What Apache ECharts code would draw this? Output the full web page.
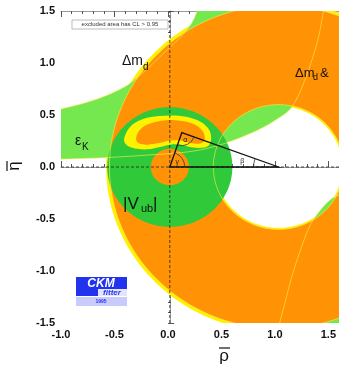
<!DOCTYPE html>
<html>
<head>
<meta charset="utf-8">
<script src="https://cdn.jsdelivr.net/npm/echarts@6/dist/echarts.min.js"></script>
<style>
html, body { margin: 0; padding: 0; background: #fff; }
#c { width: 339px; height: 372px; }
</style>
</head>
<body>
<div id="c"></div>
<script>
// Tick labels of the two axes
const rhoTicks = [-1.0, -0.5, 0.0, 0.5, 1.0, 1.5];
const rhoTickLabels = ['-1.0', '-0.5', '0.0', '0.5', '1.0', '1.5'];
const etaTicks = [-1.5, -1.0, -0.5, 0.0, 0.5, 1.0, 1.5];
const etaTickLabels = ['-1.5', '-1.0', '-0.5', '0.0', '0.5', '1.0', '1.5'];

// Δm_d constraint: annulus around (1, 0) -> [rho, eta, inner radius, outer radius]
const dmdRing = [1.0, 0.0, 0.6, 1.555];
const dmdRim = [1.0, 0.0, 0.585, 1.585];
// |Vub| constraint: annulus around the origin
const vubRing = [0.0, 0.0, 0.175, 0.575];

// ε_K band edges, [rho, eta]
const epsLower = [[-1.05, 0.075], [-0.6, 0.09], [-0.2, 0.115], [0.2, 0.15], [0.5, 0.225], [0.8, 0.35], [1.0, 0.47], [1.13, 0.59], [1.25, 0.86], [1.36, 1.22], [1.42, 1.55]];
const epsUpper = [[0.27, 1.6], [0.25, 1.5], [0.22, 1.42], [0.18, 1.35], [0.1, 1.25], [0.0, 1.15], [-0.1, 1.05], [-0.2, 0.95], [-0.3, 0.86], [-0.4, 0.78], [-0.6, 0.68], [-0.8, 0.61], [-1.05, 0.545]];
const epsLowerRight = [[0.98, -1.65], [1.01, -1.5], [1.06, -1.3], [1.12, -1.06], [1.2, -0.8], [1.29, -0.56], [1.38, -0.42], [1.48, -0.31], [1.6, -0.25]];

// Global fit contours
const fitOuter = [[-0.42, 0.25], [-0.40, 0.33], [-0.34, 0.41], [-0.24, 0.465], [-0.10, 0.49], [0.05, 0.495], [0.18, 0.475], [0.29, 0.43], [0.36, 0.36], [0.38, 0.28], [0.36, 0.21], [0.30, 0.185], [0.20, 0.19], [0.10, 0.215], [0.0, 0.215], [-0.10, 0.19], [-0.20, 0.17], [-0.30, 0.175], [-0.38, 0.20]];
const fitInner = [[-0.31, 0.27], [-0.28, 0.35], [-0.20, 0.41], [-0.08, 0.445], [0.05, 0.45], [0.17, 0.43], [0.26, 0.39], [0.31, 0.33], [0.32, 0.26], [0.28, 0.225], [0.19, 0.23], [0.10, 0.255], [0.0, 0.255], [-0.10, 0.23], [-0.20, 0.215], [-0.28, 0.225]];

// Unitarity triangle vertices: gamma at origin, beta at (1,0), alpha at apex
const triVertices = [[0.0, 0.0], [1.0, 0.0], [0.11, 0.33]];
const angleNames = ['γ', 'β', 'α'];

const ORANGE = '#ff9305';
const YELLOW = '#fff200';
const LIGHT_GREEN = '#74e84e';
const DARK_GREEN = '#30c93a';
const FAINT = 'rgba(255,236,80,0.6)';
const FONT = '"Liberation Sans", Arial, sans-serif';

function fmt(p) { return p[0].toFixed(2) + ' ' + p[1].toFixed(2); }

function circlePath(api, c, r, ccw) {
  const pts = [];
  for (let i = 0; i < 180; i++) {
    const t = (ccw ? -i : i) * 2 * Math.PI / 180;
    pts.push(api.coord([c[0] + r * Math.cos(t), c[1] + r * Math.sin(t)]));
  }
  return 'M' + pts.map(fmt).join('L') + 'Z';
}

function ringPath(api, ring) {
  const c = [ring[0], ring[1]];
  return circlePath(api, c, ring[3], true) + circlePath(api, c, ring[2], false);
}

// Catmull-Rom curve through pixel points, as cubic bezier path
function curvePath(pts, closed, lead) {
  const n = pts.length;
  let d = (lead || 'M') + fmt(pts[0]);
  const segs = closed ? n : n - 1;
  for (let i = 0; i < segs; i++) {
    const p0 = pts[closed ? (i - 1 + n) % n : Math.max(i - 1, 0)];
    const p1 = pts[i];
    const p2 = pts[(i + 1) % n];
    const p3 = pts[closed ? (i + 2) % n : Math.min(i + 2, n - 1)];
    const c1 = [p1[0] + (p2[0] - p0[0]) / 6, p1[1] + (p2[1] - p0[1]) / 6];
    const c2 = [p2[0] - (p3[0] - p1[0]) / 6, p2[1] - (p3[1] - p1[1]) / 6];
    d += 'C' + fmt(c1) + ' ' + fmt(c2) + ' ' + fmt(p2);
  }
  return closed ? d + 'Z' : d;
}

function toPx(api, arr) { return arr.map(p => api.coord(p)); }

function pathSeries(z, build, style) {
  return {
    type: 'custom', xAxisIndex: 0, yAxisIndex: 0, clip: true, silent: true, z: z,
    data: [[0, 0]],
    renderItem: (params, api) => ({ type: 'path', shape: { pathData: build(api) }, style: style })
  };
}

const series = [
  // yellow rim of the Δm_d ring
  pathSeries(2, api => ringPath(api, dmdRim), { fill: YELLOW }),
  // ε_K band (upper branch)
  pathSeries(3, api => {
    const corner = [[epsLower[epsLower.length - 1][0], 1.7], [epsUpper[0][0], 1.7]];
    return curvePath(toPx(api, epsLower), false) + 'L' + toPx(api, corner).map(fmt).join('L') +
      curvePath(toPx(api, epsUpper), false, 'L') + 'Z';
  }, { fill: LIGHT_GREEN }),
  // ε_K band (lower branch)
  pathSeries(3, api => {
    const corner = [[1.7, -0.25], [1.7, -1.7], [0.98, -1.7]];
    return curvePath(toPx(api, epsLowerRight), false) + 'L' + toPx(api, corner).map(fmt).join('L') + 'Z';
  }, { fill: LIGHT_GREEN }),
  // Δm_d ring
  pathSeries(4, api => ringPath(api, dmdRing), { fill: ORANGE }),
  // |Vub| ring
  pathSeries(5, api => ringPath(api, vubRing), { fill: DARK_GREEN }),
  // faint contour outlines
  pathSeries(6, api => circlePath(api, [dmdRing[0], dmdRing[1]], dmdRing[2], true) +
      circlePath(api, [dmdRing[0], dmdRing[1]], dmdRing[3], true),
    { fill: 'none', stroke: FAINT, lineWidth: 1 }),
  pathSeries(6, api => curvePath(toPx(api, epsLower), false) + curvePath(toPx(api, epsUpper), false) +
      curvePath(toPx(api, epsLowerRight), false),
    { fill: 'none', stroke: FAINT, lineWidth: 1 }),
  // global fit contours
  pathSeries(7, api => curvePath(toPx(api, fitOuter), true), { fill: YELLOW }),
  pathSeries(8, api => curvePath(toPx(api, fitInner), true), { fill: ORANGE }),
  // dashed axes through the origin
  {
    type: 'line', xAxisIndex: 0, yAxisIndex: 0, silent: true, z: 9, symbol: 'none',
    data: [[0, -1.5], [0, 1.5]], lineStyle: { color: '#222', width: 0.8, type: [3, 2] }
  },
  {
    type: 'line', xAxisIndex: 0, yAxisIndex: 0, silent: true, z: 9, symbol: 'none',
    data: [[-1, 0], [1.6, 0]], lineStyle: { color: '#222', width: 0.8, type: [3, 2] }
  },
  // unitarity triangle with its angles
  {
    type: 'custom', xAxisIndex: 0, yAxisIndex: 0, clip: true, silent: true, z: 10,
    data: [[0, 0]],
    renderItem: (params, api) => {
      const P = toPx(api, triVertices);
      const arcR = [15, 25, 13];
      const labR = [9, 37, 8];
      const children = [{
        type: 'polygon', shape: { points: P },
        style: { fill: 'none', stroke: '#111', lineWidth: 1.3 }
      }];
      for (let i = 0; i < 3; i++) {
        const A = P[i], B = P[(i + 1) % 3], C = P[(i + 2) % 3];
        const a1 = Math.atan2(B[1] - A[1], B[0] - A[0]);
        const a2 = Math.atan2(C[1] - A[1], C[0] - A[0]);
        let diff = a2 - a1;
        while (diff > Math.PI) diff -= 2 * Math.PI;
        while (diff < -Math.PI) diff += 2 * Math.PI;
        const s = diff > 0 ? a1 : a2;
        const span = Math.abs(diff);
        children.push({
          type: 'arc',
          shape: { cx: A[0], cy: A[1], r: arcR[i], startAngle: s, endAngle: s + span, clockwise: true },
          style: { fill: 'none', stroke: '#333', lineWidth: 0.8 }
        });
        const mid = s + span / 2;
        children.push({
          type: 'text', x: A[0] + labR[i] * Math.cos(mid), y: A[1] + labR[i] * Math.sin(mid),
          style: { text: angleNames[i], font: '7px ' + FONT, fill: '#222', align: 'center', verticalAlign: 'middle' }
        });
      }
      return { type: 'group', children: children };
    }
  }
];

const frameLine = { show: true, lineStyle: { color: '#9a9a9a', width: 1 } };
const tickStyle = { show: true, inside: true, length: 6, lineStyle: { color: '#555', width: 1 } };
const minorStyle = { show: true, splitNumber: 5, length: 3, lineStyle: { color: '#555', width: 1 } };
const labelOf = (ticks, labels) => v => {
  const i = ticks.findIndex(t => Math.abs(t - v) < 1e-6);
  return i >= 0 ? labels[i] : '';
};
const tickLabel = { fontFamily: FONT, fontWeight: 'bold', fontSize: 11, color: '#111' };

function text(x, y, s, size) {
  return {
    type: 'text', x: x, y: y, z: 100,
    style: { text: s, font: size + 'px ' + FONT, fill: '#111', verticalAlign: 'middle' }
  };
}

const option = {
  animation: false,
  backgroundColor: '#fff',
  grid: [
    { left: 61, top: 11, width: 278, height: 312 },
    { left: 61, top: 11, width: 272, height: 312 }
  ],
  xAxis: [
    { gridIndex: 0, type: 'value', min: -1, max: 1.5551, position: 'bottom', axisLine: frameLine, axisTick: { show: false }, axisLabel: { show: false }, splitLine: { show: false } },
    { gridIndex: 0, type: 'value', min: -1, max: 1.5551, position: 'top', axisLine: frameLine, axisTick: { show: false }, axisLabel: { show: false }, splitLine: { show: false } },
    { gridIndex: 1, type: 'value', min: rhoTicks[0], max: rhoTicks[rhoTicks.length - 1], interval: 0.5, position: 'bottom',
      axisLine: { show: false }, axisTick: tickStyle, minorTick: minorStyle, splitLine: { show: false },
      axisLabel: Object.assign({ margin: 6, formatter: labelOf(rhoTicks, rhoTickLabels) }, tickLabel) },
    { gridIndex: 1, type: 'value', min: rhoTicks[0], max: rhoTicks[rhoTicks.length - 1], interval: 0.5, position: 'top',
      axisLine: { show: false }, axisTick: tickStyle, minorTick: minorStyle, splitLine: { show: false }, axisLabel: { show: false } }
  ],
  yAxis: [
    { gridIndex: 0, type: 'value', min: -1.5, max: 1.5, position: 'left', axisLine: frameLine, axisTick: { show: false }, axisLabel: { show: false }, splitLine: { show: false } },
    { gridIndex: 1, type: 'value', min: etaTicks[0], max: etaTicks[etaTicks.length - 1], interval: 0.5, position: 'left',
      axisLine: { show: false }, axisTick: tickStyle, minorTick: minorStyle, splitLine: { show: false },
      axisLabel: Object.assign({ margin: 6, formatter: labelOf(etaTicks, etaTickLabels) }, tickLabel) }
  ],
  series: series,
  graphic: [
    // CL note
    { type: 'rect', z: 100, shape: { x: 72, y: 20, width: 96, height: 9 }, style: { fill: '#fff', stroke: '#aaa', lineWidth: 0.8 } },
    { type: 'text', z: 101, x: 120, y: 24.5, style: { text: 'excluded area has CL > 0.95', font: '6px ' + FONT, fill: '#333', align: 'center', verticalAlign: 'middle' } },
    // constraint labels
    text(122, 61, 'Δm', 14),
    text(143, 67, 'd', 10),
    text(295, 73, 'Δm', 13),
    text(313, 78, 'd', 9),
    text(320, 73, '&', 13),
    text(75, 141, 'ε', 14),
    text(82, 147, 'K', 10),
    text(123, 204, '|V', 17),
    text(141, 209, 'ub', 11),
    text(153, 204, '|', 17),
    // axis titles
    { type: 'group', x: 224, y: 356, z: 100, children: [
      { type: 'text', style: { text: 'ρ', font: '17px ' + FONT, fill: '#111', align: 'center', verticalAlign: 'middle' } },
      { type: 'line', shape: { x1: -5, y1: -8, x2: 6, y2: -8 }, style: { stroke: '#111', lineWidth: 1.2 } }
    ] },
    { type: 'group', x: 14, y: 166, rotation: Math.PI / 2, z: 100, children: [
      { type: 'text', style: { text: 'η', font: '17px ' + FONT, fill: '#111', align: 'center', verticalAlign: 'middle' } },
      { type: 'line', shape: { x1: -5, y1: -7, x2: 5, y2: -7 }, style: { stroke: '#111', lineWidth: 1.2 } }
    ] },
    // CKMfitter logo
    { type: 'rect', z: 100, shape: { x: 76, y: 277, width: 51, height: 12 }, style: { fill: '#2233ee' } },
    { type: 'text', z: 101, x: 101, y: 283.5, style: { text: 'CKM', font: 'italic bold 12px ' + FONT, fill: '#fff', align: 'center', verticalAlign: 'middle' } },
    { type: 'rect', z: 100, shape: { x: 76, y: 289, width: 51, height: 7 }, style: { fill: '#e4e6ff' } },
    { type: 'rect', z: 100, shape: { x: 76, y: 289, width: 22, height: 7 }, style: { fill: '#2233ee' } },
    { type: 'text', z: 101, x: 112, y: 292.5, style: { text: 'fitter', font: 'italic bold 8px ' + FONT, fill: '#2233ee', align: 'center', verticalAlign: 'middle' } },
    { type: 'rect', z: 100, shape: { x: 76, y: 297, width: 51, height: 9 }, style: { fill: '#c9ccfb' } },
    { type: 'text', z: 101, x: 101, y: 301.5, style: { text: '1995', font: 'bold 5px ' + FONT, fill: '#2233ee', align: 'center', verticalAlign: 'middle' } }
  ]
};

const chart = echarts.init(document.getElementById('c'), null, { renderer: 'canvas', width: 339, height: 372 });
chart.setOption(option);
</script>
</body>
</html>
